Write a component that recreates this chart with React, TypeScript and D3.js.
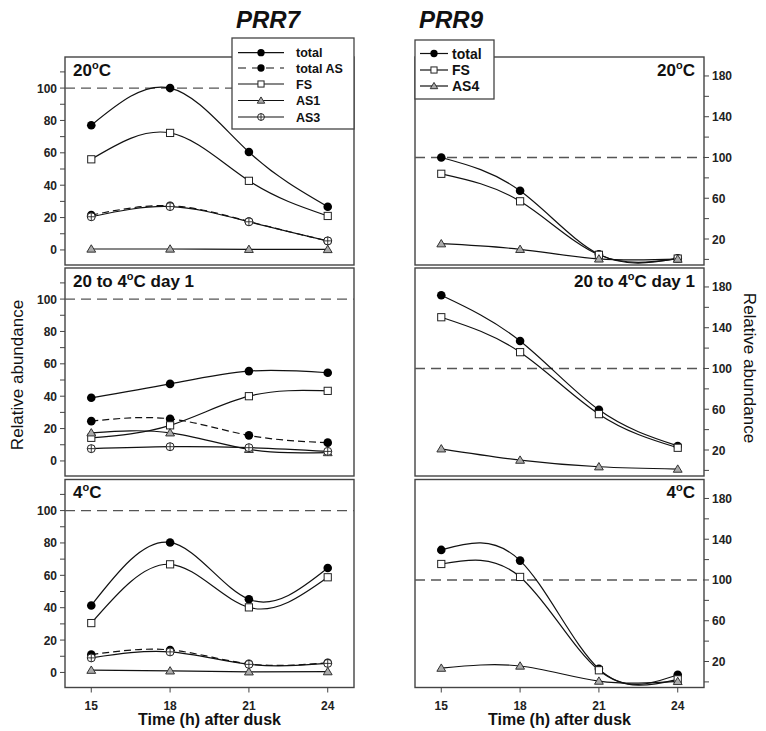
import React from 'react';
import * as d3 from 'd3';

// hours after dusk
const hours = [15, 18, 21, 24];

// PRR7, 20C
const prr7_20_total = [77, 100, 60.5, 26.7];
const prr7_20_totalAS = [21.5, 27.3, 17.6, 5.5];
const prr7_20_FS = [56, 72.3, 42.7, 21];
const prr7_20_AS1 = [0.6, 0.6, 0.4, 0.3];
const prr7_20_AS3 = [20.5, 26.8, 17.4, 5.6];
// PRR7, 20 to 4C day 1
const prr7_sh_total = [39, 47.6, 55.5, 54.5];
const prr7_sh_totalAS = [24.6, 26, 15.8, 11.3];
const prr7_sh_FS = [14.3, 22, 40, 43.3];
const prr7_sh_AS1 = [17.4, 17.4, 7.2, 5.2];
const prr7_sh_AS3 = [7.6, 8.8, 8.2, 5.9];
// PRR7, 4C
const prr7_4_total = [41.4, 80.3, 45.2, 64.5];
const prr7_4_totalAS = [11, 13.9, 5.3, 6];
const prr7_4_FS = [30.5, 66.8, 40.2, 58.8];
const prr7_4_AS1 = [1.4, 1, 0.4, 0.5];
const prr7_4_AS3 = [9, 12.7, 5, 5.6];

// PRR9
const prr9_20_total = [100, 67.3, 5, 1];
const prr9_20_FS = [84, 57, 4.5, 0.8];
const prr9_20_AS4 = [15.4, 9.9, 0.5, 0.3];
const prr9_sh_total = [171.8, 127, 59.4, 24];
const prr9_sh_FS = [150.3, 116, 55.2, 22.2];
const prr9_sh_AS4 = [21.2, 10.1, 3.6, 1.3];
const prr9_4_total = [129.5, 119, 12.8, 7];
const prr9_4_FS = [115.7, 103, 11.4, 2.5];
const prr9_4_AS4 = [13.5, 15.6, 0.8, 0.5];

// axis ticks
const leftTicks = [0, 10, 20, 30, 40, 50, 60, 70, 80, 90, 100, 110];
const leftLabels = [0, 20, 40, 60, 80, 100];
const rightTicks = [0, 20, 40, 60, 80, 100, 120, 140, 160, 180];
const rightLabels = [20, 60, 100, 140, 180];

const prr7Legend = ['total', 'total AS', 'FS', 'AS1', 'AS3'];
const prr9Legend = ['total', 'FS', 'AS4'];

const FONT = '"Liberation Sans", Arial, Helvetica, sans-serif';

type Kind = 'dot' | 'square' | 'tri' | 'plus';
type Series = { values: number[]; kind: Kind; dashed?: boolean };

const styleOf: Record<string, { kind: Kind; dashed?: boolean }> = {
  total: { kind: 'dot' },
  'total AS': { kind: 'dot', dashed: true },
  FS: { kind: 'square' },
  AS1: { kind: 'tri' },
  AS3: { kind: 'plus' },
  AS4: { kind: 'tri' },
};

const rowTops = [57, 268, 479.5];
const panelH = 208;
const leftX = [65, 354];
const rightX = [415, 704];

function Marker({ kind, x, y, s = 1 }: { kind: Kind; x: number; y: number; s?: number }) {
  if (kind === 'dot') return <circle cx={x} cy={y} r={4.3 * s} fill="#000" />;
  if (kind === 'square')
    return <rect x={x - 3.6 * s} y={y - 3.6 * s} width={7.2 * s} height={7.2 * s} fill="#fff" stroke="#222" strokeWidth={1} />;
  if (kind === 'tri') {
    const h = 4.2 * s;
    return (
      <path
        d={`M${x},${y - h}L${x + h * 1.05},${y + h * 0.75}L${x - h * 1.05},${y + h * 0.75}Z`}
        fill="#aaa"
        stroke="#333"
        strokeWidth={1}
      />
    );
  }
  const r = 4 * s;
  return (
    <g>
      <circle cx={x} cy={y} r={r} fill="#fff" stroke="#222" strokeWidth={1} />
      <path d={`M${x - r},${y}H${x + r}M${x},${y - r}V${y + r}`} stroke="#222" strokeWidth={0.9} />
    </g>
  );
}

function Label({ x, y, pre, post, anchor }: { x: number; y: number; pre: string; post: string; anchor: 'start' | 'end' }) {
  return (
    <text x={x} y={y} fontFamily={FONT} fontWeight="bold" fontSize={17} textAnchor={anchor} fill="#111">
      {pre}
      <tspan fontSize={11} dy={-7}>o</tspan>
      <tspan dy={7}>{post}</tspan>
    </text>
  );
}

function Panel({ x0, x1, top, side, series, label, last }: {
  x0: number; x1: number; top: number; side: 'left' | 'right'; series: Series[];
  label: [string, string]; last: boolean;
}) {
  const x = d3.scaleLinear().domain([14, 25]).range([x0, x1]);
  const y = side === 'left'
    ? d3.scaleLinear().domain([-9.3, 119.2]).range([top + panelH, top])
    : d3.scaleLinear().domain([-5.5, 198.6]).range([top + panelH, top]);
  const gen = d3.line<number>().x((_, i) => x(hours[i])).y((v) => y(v)).curve(d3.curveNatural);
  const ticks = side === 'left' ? leftTicks : rightTicks;
  const labels = side === 'left' ? leftLabels : rightLabels;
  const ax = side === 'left' ? x0 : x1;
  const dir = side === 'left' ? -1 : 1;
  return (
    <g>
      <rect x={x0} y={top} width={x1 - x0} height={panelH} fill="#fff" stroke="#444" strokeWidth={1.4} />
      <line x1={x0} x2={x1} y1={y(100)} y2={y(100)} stroke="#555" strokeWidth={1.3} strokeDasharray="10,6" />
      {ticks.map((t) => (
        <line key={t} x1={ax} x2={ax + dir * 5} y1={y(t)} y2={y(t)} stroke="#444" strokeWidth={1} />
      ))}
      {labels.map((t) => (
        <text key={t} x={ax + dir * 8} y={y(t) + 4.5} textAnchor={side === 'left' ? 'end' : 'start'}
          fontFamily={FONT} fontWeight="bold" fontSize={12} fill="#222">{t}</text>
      ))}
      {last && hours.map((h) => (
        <g key={h}>
          <line x1={x(h)} x2={x(h)} y1={top + panelH} y2={top + panelH + 5} stroke="#444" strokeWidth={1} />
          <text x={x(h)} y={top + panelH + 22} textAnchor="middle" fontFamily={FONT} fontWeight="bold" fontSize={12} fill="#222">{h}</text>
        </g>
      ))}
      {series.map((s, i) => (
        <path key={i} d={gen(s.values) || ''} fill="none" stroke="#111" strokeWidth={1.2}
          strokeDasharray={s.dashed ? '7,4' : undefined} />
      ))}
      {series.map((s, i) => (
        <g key={'m' + i}>
          {s.values.map((v, j) => <Marker key={j} kind={s.kind} x={x(hours[j])} y={y(v)} />)}
        </g>
      ))}
      {side === 'left'
        ? <Label x={x0 + 8} y={top + 18.5} pre={label[0]} post={label[1]} anchor="start" />
        : <Label x={x1 - 9} y={top + 18.5} pre={label[0]} post={label[1]} anchor="end" />}
    </g>
  );
}

function Legend({ names, x, y, w, h, lx0, lx1, tx, rowY, fs, ms }: {
  names: string[]; x: number; y: number; w: number; h: number; lx0: number; lx1: number;
  tx: number; rowY: number[]; fs: number; ms: number;
}) {
  return (
    <g>
      <rect x={x} y={y} width={w} height={h} fill="#fff" stroke="#444" strokeWidth={1.3} />
      {names.map((n, i) => {
        const st = styleOf[n];
        return (
          <g key={n}>
            <line x1={lx0} x2={lx1} y1={rowY[i]} y2={rowY[i]} stroke="#111" strokeWidth={1.2}
              strokeDasharray={st.dashed ? '8,6' : undefined} />
            <Marker kind={st.kind} x={(lx0 + lx1) / 2} y={rowY[i]} s={ms} />
            <text x={tx} y={rowY[i] + fs * 0.36} fontFamily={FONT} fontWeight="bold" fontSize={fs} fill="#111">{n}</text>
          </g>
        );
      })}
    </g>
  );
}

export default function App() {
  const mk = (names: string[], arrs: number[][]): Series[] =>
    names.map((n, i) => ({ values: arrs[i], ...styleOf[n] }));
  const prr7 = [
    mk(prr7Legend, [prr7_20_total, prr7_20_totalAS, prr7_20_FS, prr7_20_AS1, prr7_20_AS3]),
    mk(prr7Legend, [prr7_sh_total, prr7_sh_totalAS, prr7_sh_FS, prr7_sh_AS1, prr7_sh_AS3]),
    mk(prr7Legend, [prr7_4_total, prr7_4_totalAS, prr7_4_FS, prr7_4_AS1, prr7_4_AS3]),
  ];
  const prr9 = [
    mk(prr9Legend, [prr9_20_total, prr9_20_FS, prr9_20_AS4]),
    mk(prr9Legend, [prr9_sh_total, prr9_sh_FS, prr9_sh_AS4]),
    mk(prr9Legend, [prr9_4_total, prr9_4_FS, prr9_4_AS4]),
  ];
  const labels: [string, string][] = [['20', 'C'], ['20 to 4', 'C day 1'], ['4', 'C']];
  return (
    <svg width={766} height={731} style={{ position: 'absolute', left: 0, top: 0, background: '#fff' }}>
      <rect width={766} height={731} fill="#fff" />
      <text x={268} y={28} textAnchor="middle" fontFamily={FONT} fontWeight="bold" fontStyle="italic" fontSize={24} fill="#111">PRR7</text>
      <text x={451} y={28} textAnchor="middle" fontFamily={FONT} fontWeight="bold" fontStyle="italic" fontSize={24} fill="#111">PRR9</text>
      {rowTops.map((t, i) => (
        <Panel key={'l' + i} x0={leftX[0]} x1={leftX[1]} top={t} side="left" series={prr7[i]} label={labels[i]} last={i === 2} />
      ))}
      {rowTops.map((t, i) => (
        <Panel key={'r' + i} x0={rightX[0]} x1={rightX[1]} top={t} side="right" series={prr9[i]} label={labels[i]} last={i === 2} />
      ))}
      <Legend names={prr7Legend} x={232} y={38} w={122} h={91} lx0={238} lx1={284} tx={296}
        rowY={[52.7, 68, 84, 100.5, 117]} fs={12.5} ms={0.85} />
      <Legend names={prr9Legend} x={415} y={40} w={79} h={59} lx0={420} lx1={448} tx={452}
        rowY={[53.5, 70, 86]} fs={14} ms={0.85} />
      <text transform="translate(23,375) rotate(-90)" textAnchor="middle" fontFamily={FONT} fontSize={17} fill="#111">Relative abundance</text>
      <text transform="translate(744,368) rotate(90)" textAnchor="middle" fontFamily={FONT} fontSize={17} fill="#111">Relative abundance</text>
      <text x={209.5} y={725} textAnchor="middle" fontFamily={FONT} fontWeight="bold" fontSize={16} fill="#111">Time (h) after dusk</text>
      <text x={559.5} y={725} textAnchor="middle" fontFamily={FONT} fontWeight="bold" fontSize={16} fill="#111">Time (h) after dusk</text>
    </svg>
  );
}
